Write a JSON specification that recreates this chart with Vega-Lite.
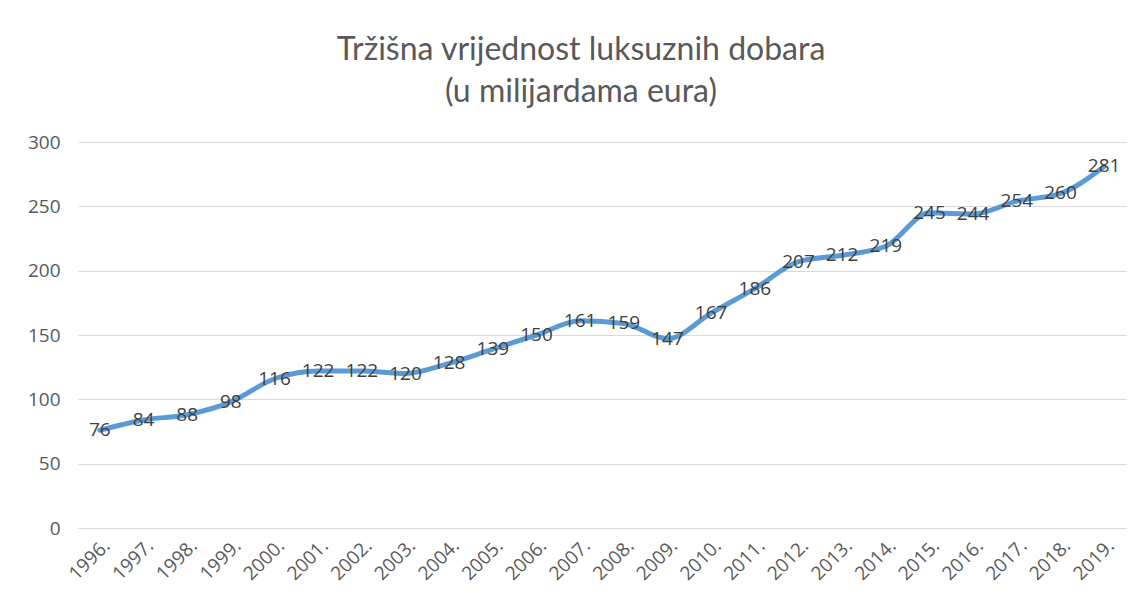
{
  "$schema": "https://vega.github.io/schema/vega-lite/v6.json",
  "width": 1048,
  "height": 386,
  "autosize": {"type": "none"},
  "padding": {"left": 78, "top": 142, "right": 17, "bottom": 78},
  "background": "white",
  "title": {
    "text": ["Tržišna vrijednost luksuznih dobara", "(u milijardama eura)"],
    "font": "Lato",
    "fontSize": 32,
    "fontWeight": "normal",
    "color": "#595959",
    "lineHeight": 42,
    "anchor": "middle",
    "frame": "group",
    "dx": -21,
    "offset": 24
  },
  "config": {
    "view": {"stroke": null},
    "axis": {"labelFont": "Open Sans", "labelFontSize": 19, "labelColor": "#595959", "gridColor": "#d9d9d9", "gridWidth": 1.2}
  },
  "data": {
    "values": [
      {"year": "1996.", "value": 76},
      {"year": "1997.", "value": 84},
      {"year": "1998.", "value": 88},
      {"year": "1999.", "value": 98},
      {"year": "2000.", "value": 116},
      {"year": "2001.", "value": 122},
      {"year": "2002.", "value": 122},
      {"year": "2003.", "value": 120},
      {"year": "2004.", "value": 128},
      {"year": "2005.", "value": 139},
      {"year": "2006.", "value": 150},
      {"year": "2007.", "value": 161},
      {"year": "2008.", "value": 159},
      {"year": "2009.", "value": 147},
      {"year": "2010.", "value": 167},
      {"year": "2011.", "value": 186},
      {"year": "2012.", "value": 207},
      {"year": "2013.", "value": 212},
      {"year": "2014.", "value": 219},
      {"year": "2015.", "value": 245},
      {"year": "2016.", "value": 244},
      {"year": "2017.", "value": 254},
      {"year": "2018.", "value": 260},
      {"year": "2019.", "value": 281}
    ]
  },
  "encoding": {
    "x": {
      "field": "year",
      "type": "ordinal",
      "sort": null,
      "scale": {"type": "point", "padding": 0.5},
      "axis": {"title": null, "labelAngle": -45, "ticks": false, "domain": true, "domainColor": "#d9d9d9", "domainWidth": 1.2, "labelPadding": 8, "grid": false}
    },
    "y": {
      "field": "value",
      "type": "quantitative",
      "scale": {"domain": [0, 300], "nice": false},
      "axis": {"title": null, "values": [0, 50, 100, 150, 200, 250, 300], "ticks": false, "domain": false, "labelPadding": 18, "grid": true}
    }
  },
  "layer": [
    {
      "mark": {"type": "line", "color": "#5B9BD5", "strokeWidth": 5, "interpolate": "monotone", "strokeCap": "round", "strokeJoin": "round"}
    },
    {
      "mark": {"type": "text", "font": "Open Sans", "fontSize": 19, "color": "#404040", "align": "center", "baseline": "middle"},
      "encoding": {"text": {"field": "value", "type": "quantitative"}}
    }
  ]
}
